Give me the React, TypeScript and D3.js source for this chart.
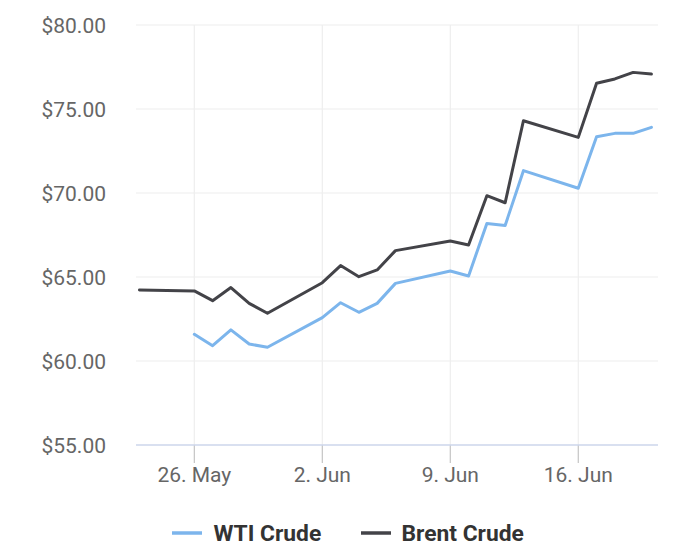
import React from "react";
import * as d3 from "d3";

const dates = [
  "2025-05-23", "2025-05-26", "2025-05-27", "2025-05-28", "2025-05-29", "2025-05-30",
  "2025-06-02", "2025-06-03", "2025-06-04", "2025-06-05", "2025-06-06",
  "2025-06-09", "2025-06-10", "2025-06-11", "2025-06-12", "2025-06-13",
  "2025-06-16", "2025-06-17", "2025-06-18", "2025-06-19", "2025-06-20",
];
const wti: (number | null)[] = [
  null, 61.59, 60.91, 61.85, 61.01, 60.82,
  62.58, 63.47, 62.90, 63.43, 64.62,
  65.36, 65.06, 68.19, 68.07, 71.33,
  70.28, 73.35, 73.55, 73.55, 73.91,
];
const brent: number[] = [
  64.23, 64.17, 63.59, 64.37, 63.43, 62.84,
  64.66, 65.68, 65.02, 65.42, 66.57,
  67.14, 66.90, 69.84, 69.42, 74.30,
  73.31, 76.53, 76.79, 77.18, 77.08,
];
const yTicks = [55, 60, 65, 70, 75, 80];
const xTickDates = ["2025-05-26", "2025-06-02", "2025-06-09", "2025-06-16"];
const seriesNames = ["WTI Crude", "Brent Crude"];
const seriesColors = ["#7cb5ec", "#434348"];

const W = 700;
const H = 555;
const plotLeft = 136;
const plotRight = 658;
const plotTop = 25;
const plotBottom = 445;
const DAY = 86400000;

export default function App() {
  const parse = (s: string) => new Date(s + "T00:00:00Z");
  const x = d3
    .scaleUtc()
    .domain([
      new Date(parse("2025-05-26").getTime() - 3.19 * DAY),
      new Date(parse("2025-06-16").getTime() + 4.36 * DAY),
    ])
    .range([plotLeft, plotRight]);
  const y = d3.scaleLinear().domain([55, 80]).range([plotBottom, plotTop]);
  const fmt = d3.utcFormat("%-d. %b");

  const line = d3
    .line<[Date, number | null]>()
    .defined((d) => d[1] != null)
    .x((d) => x(d[0]))
    .y((d) => y(d[1] as number));

  const wtiPts: [Date, number | null][] = dates.map((d, i) => [parse(d), wti[i]]);
  const brentPts: [Date, number | null][] = dates.map((d, i) => [parse(d), brent[i]]);

  const font = "Roboto, 'Noto Sans', sans-serif";
  const legendItems = [
    { name: seriesNames[0], color: seriesColors[0], lx: 172, tx: 213.5 },
    { name: seriesNames[1], color: seriesColors[1], lx: 361, tx: 401.5 },
  ];

  return (
    <svg
      width={W}
      height={H}
      style={{ position: "absolute", left: 0, top: 0, background: "#fff" }}
      fontFamily={font}
    >
      <rect x={0} y={0} width={W} height={H} fill="#ffffff" />
      {yTicks.map((t) => (
        <g key={"y" + t}>
          {t !== 55 && (
            <line x1={plotLeft} x2={plotRight} y1={y(t)} y2={y(t)} stroke="#eeeeee" strokeWidth={1.2} />
          )}
          <text x={106} y={y(t) + 7.7} textAnchor="end" fontSize={21} fill="#666666">
            {d3.format("$.2f")(t)}
          </text>
        </g>
      ))}
      {xTickDates.map((s) => {
        const xv = x(parse(s));
        return (
          <g key={"x" + s}>
            <line x1={xv} x2={xv} y1={plotTop} y2={plotBottom} stroke="#eeeeee" strokeWidth={1.2} />
            <line x1={xv} x2={xv} y1={plotBottom} y2={plotBottom + 18} stroke="#c4c4c4" strokeWidth={1.2} />
            <text x={xv} y={482} textAnchor="middle" fontSize={21} fill="#666666">
              {fmt(parse(s))}
            </text>
          </g>
        );
      })}
      <line x1={plotLeft} x2={plotRight} y1={plotBottom} y2={plotBottom} stroke="#ccd6eb" strokeWidth={1.5} />
      <path d={line(wtiPts) || ""} fill="none" stroke={seriesColors[0]} strokeWidth={3} strokeLinejoin="round" strokeLinecap="round" />
      <path d={line(brentPts) || ""} fill="none" stroke={seriesColors[1]} strokeWidth={3} strokeLinejoin="round" strokeLinecap="round" />
      {legendItems.map((it) => (
        <g key={it.name}>
          <line x1={it.lx} x2={it.lx + 30} y1={533} y2={533} stroke={it.color} strokeWidth={3.5} />
          <text x={it.tx} y={540.7} fontSize={22.8} fontWeight="bold" fill="#333333">
            {it.name}
          </text>
        </g>
      ))}
    </svg>
  );
}
